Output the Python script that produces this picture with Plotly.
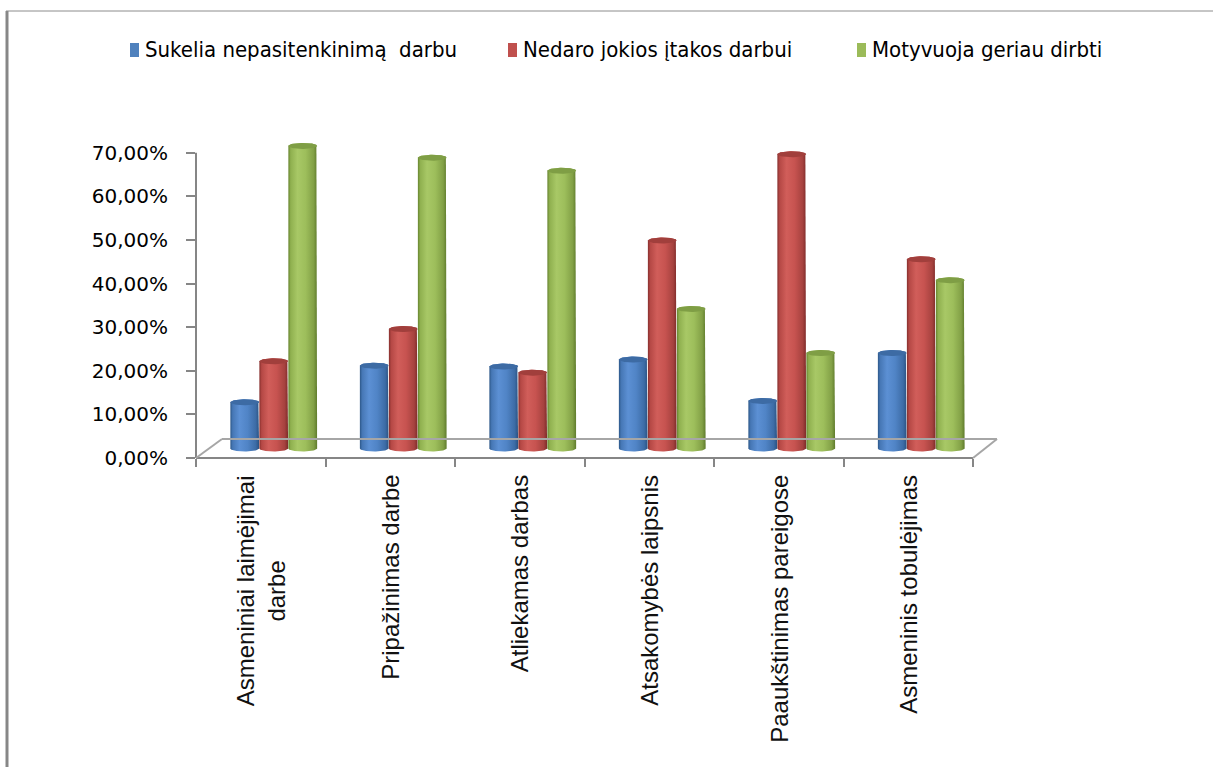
import numpy as np
import plotly.graph_objects as go

# ---- data -------------------------------------------------------------
categories = [
    "Asmeniniai laimėjimai<br>darbe",
    "Pripažinimas darbe",
    "Atliekamas darbas",
    "Atsakomybės laipsnis",
    "Paaukštinimas pareigose",
    "Asmeninis tobulėjimas",
]
series_names = [
    "Sukelia nepasitenkinimą  darbu",
    "Nedaro jokios įtakos darbui",
    "Motyvuoja geriau dirbti",
]
dissatisfied = [0.106, 0.190, 0.188, 0.204, 0.109, 0.219]
no_effect = [0.200, 0.274, 0.174, 0.477, 0.675, 0.434]
motivates = [0.694, 0.667, 0.637, 0.320, 0.219, 0.386]
y_ticks = [0.0, 0.1, 0.2, 0.3, 0.4, 0.5, 0.6, 0.7]

# ---- styling ------------------------------------------------------------
body_scales = [
    [[0, "#2c5788"], [0.08, "#4677b5"], [0.32, "#5c90d4"], [0.6, "#5084c6"], [0.88, "#3d6ca6"], [1, "#2a5282"]],
    [[0, "#862f2d"], [0.08, "#b54845"], [0.32, "#d15e5a"], [0.6, "#c75350"], [0.88, "#a6423f"], [1, "#7e2b29"]],
    [[0, "#67842f"], [0.08, "#8fb04f"], [0.32, "#a8c866"], [0.6, "#9dbe5b"], [0.88, "#82a046"], [1, "#5f7b2c"]],
]
cap_colors = ["#3d6ba4", "#a13f3c", "#7f9e45"]
legend_colors = ["#4f81bd", "#c0504d", "#9bbb59"]
axis_gray = "#868686"

W, H = 1213, 767
L, R_PX = 196, 973          # plot area left / right edge (px)
T, B_PX = 131, 458          # plot area top / bottom edge (px)
PW, PH = R_PX - L, B_PX - T
Y_MAX = 0.75
n_cat = len(categories)
cat_px = PW / n_cat
unit_px = PH / Y_MAX

# oblique depth shift of the bar row (half of the floor depth)
DX, DY = 13.0, 9.5
bar_w = 0.222
bar_step = 0.224
cap_b = 3.0 / unit_px


def px_x(px):
    return (px - L) / PW


def px_y(py):
    return (B_PX - py) / PH


fig = go.Figure()

# category holder for the primary (category) x axis
fig.add_trace(go.Scatter(x=list(range(n_cat)), y=[None] * n_cat, xaxis="x", yaxis="y",
                         mode="markers", showlegend=False, hoverinfo="skip"))

t_low = np.linspace(np.pi, 2 * np.pi, 40)
t_up = np.linspace(0, np.pi, 40)
t_full = np.linspace(0, 2 * np.pi, 80)

all_series = [dissatisfied, no_effect, motivates]
for j, values in enumerate(all_series):
    for i, v in enumerate(values):
        xc = i + (j - 1) * bar_step
        a = bar_w / 2
        bx = np.concatenate([xc + a * np.cos(t_low), [xc + a], xc + a * np.cos(t_up)])
        by = np.concatenate([cap_b * np.sin(t_low), [v], v + cap_b * np.sin(t_up)])
        fig.add_trace(go.Scatter(
            x=bx, y=by, xaxis="x2", yaxis="y2", mode="lines", fill="toself",
            line=dict(width=0), showlegend=False, hoverinfo="skip",
            name=series_names[j],
            fillgradient=dict(type="horizontal", colorscale=body_scales[j],
                              start=xc - a, stop=xc + a),
        ))
        fig.add_trace(go.Scatter(
            x=xc + a * np.cos(t_full), y=v + cap_b * np.sin(t_full),
            xaxis="x2", yaxis="y2", mode="lines", fill="toself",
            fillcolor=cap_colors[j], line=dict(width=0),
            showlegend=False, hoverinfo="skip",
        ))

# legend row: colour key + series name
legend_key_px = [130, 508, 857]
legend_font = dict(family="DejaVu Sans Condensed, Liberation Sans Narrow, Liberation Sans",
                   size=22, color="#000000")
annotations = []
shapes = []
for j, name in enumerate(series_names):
    x0 = legend_key_px[j]
    shapes.append(dict(type="rect", xref="paper", yref="paper",
                       x0=px_x(x0), x1=px_x(x0 + 9), y0=px_y(57), y1=px_y(43),
                       fillcolor=legend_colors[j], line=dict(width=0)))
    annotations.append(dict(x=px_x(x0 + 13), y=px_y(50), xref="paper", yref="paper",
                            xanchor="left", yanchor="middle", text=name,
                            showarrow=False, font=legend_font))

# category labels (rotated, centred multi-line)
for i, lab in enumerate(categories):
    annotations.append(dict(
        x=i, y=0, xref="x", yref="paper", yanchor="top", xanchor="center",
        yshift=-15, text=lab, textangle=-90, showarrow=False, align="center",
        font=dict(family="Liberation Sans, Arial", size=24, color="#111111"),
    ))

shapes += [
    # vertical value axis line
    dict(type="line", xref="paper", yref="y", x0=0, x1=0, y0=0, y1=y_ticks[-1],
         line=dict(color=axis_gray, width=2)),
    # floor: front edge, back edge, side edges
    dict(type="line", xref="paper", yref="paper", x0=0, x1=1, y0=0, y1=0,
         line=dict(color=axis_gray, width=2)),
    dict(type="line", xref="paper", yref="paper", x0=px_x(L + 26), x1=px_x(997),
         y0=px_y(439), y1=px_y(439), line=dict(color="#a6a6a6", width=2)),
    dict(type="line", xref="paper", yref="paper", x0=0, x1=px_x(L + 26),
         y0=0, y1=px_y(439), line=dict(color="#a6a6a6", width=2)),
    dict(type="line", xref="paper", yref="paper", x0=1, x1=px_x(997),
         y0=0, y1=px_y(439), line=dict(color="#a6a6a6", width=2)),
    # outer frame
    dict(type="line", xref="paper", yref="paper", x0=px_x(7), x1=px_x(7),
         y0=px_y(11), y1=px_y(H + 2), line=dict(color="#878787", width=3)),
    dict(type="line", xref="paper", yref="paper", x0=px_x(6), x1=px_x(W + 2),
         y0=px_y(11), y1=px_y(11), line=dict(color="#8c8c8c", width=1)),
]

fig.update_layout(
    width=W, height=H,
    margin=dict(l=L, r=W - R_PX, t=T, b=H - B_PX),
    paper_bgcolor="white", plot_bgcolor="white",
    separators=",.",
    showlegend=False,
    xaxis=dict(type="category", range=[-0.5, n_cat - 0.5], tickson="boundaries",
               ticks="outside", ticklen=8, tickwidth=2, tickcolor=axis_gray,
               showticklabels=False, showgrid=False, zeroline=False, showline=False,
               fixedrange=True),
    yaxis=dict(range=[0, Y_MAX], tickvals=y_ticks, tickformat=".2%",
               ticks="outside", ticklen=9, tickwidth=2, tickcolor=axis_gray,
               ticklabelstandoff=14,
               tickfont=dict(family="DejaVu Sans", size=20, color="#000000"),
               showgrid=False, zeroline=False, showline=False, fixedrange=True),
    xaxis2=dict(overlaying="x", range=[-0.5 - DX / cat_px, n_cat - 0.5 - DX / cat_px],
                visible=False, fixedrange=True),
    yaxis2=dict(overlaying="y", range=[-DY / unit_px, Y_MAX - DY / unit_px],
                visible=False, fixedrange=True),
    annotations=annotations,
    shapes=shapes,
)

fig.write_html("out.html")
